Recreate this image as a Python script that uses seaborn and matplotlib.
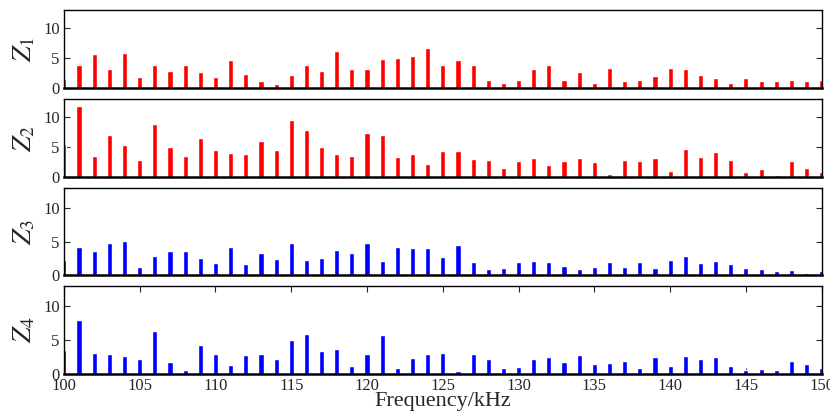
import numpy as np
import pandas as pd
import seaborn as sns
import matplotlib
matplotlib.use("Agg")
import matplotlib.pyplot as plt

freq = list(range(100, 151))

z1 = [1.5, 3.9, 5.6, 3.2, 5.8, 1.9, 3.8, 2.8, 3.9, 2.6,
      1.9, 4.6, 2.3, 1.1, 0.6, 2.1, 3.8, 2.9, 6.2, 3.2,
      3.1, 4.9, 5.0, 5.3, 6.6, 3.8, 4.7, 3.9, 1.4, 0.9,
      1.4, 3.1, 3.8, 1.4, 2.6, 0.9, 3.4, 1.2, 1.4, 2.0,
      3.4, 3.1, 2.1, 1.7, 0.8, 1.7, 1.1, 1.1, 1.3, 1.2, 1.3]

z2 = [5.6, 11.9, 3.6, 7.1, 5.4, 2.9, 8.9, 5.0, 3.5, 6.6,
      4.6, 4.1, 3.8, 6.0, 4.6, 9.5, 7.9, 5.1, 3.9, 3.6,
      7.3, 7.0, 3.3, 3.9, 2.2, 4.4, 4.4, 3.1, 2.9, 1.6,
      2.7, 3.2, 2.1, 2.7, 3.2, 2.5, 0.6, 2.9, 2.7, 3.2,
      1.1, 4.7, 3.4, 4.2, 2.8, 0.8, 1.4, 0.4, 2.7, 1.6, 0.9]

z3 = [2.3, 4.15, 3.65, 4.75, 5.05, 1.2, 2.9, 3.65, 3.65, 2.6,
      1.8, 4.15, 1.6, 3.35, 2.4, 4.85, 2.2, 2.5, 3.75, 3.25,
      4.85, 2.1, 4.15, 4.05, 4.05, 2.7, 4.55, 1.9, 0.85, 1.0,
      1.9, 2.1, 1.9, 1.3, 0.85, 1.2, 1.9, 1.2, 2.0, 1.1,
      2.2, 2.9, 1.8, 2.1, 1.7, 1.1, 0.85, 0.55, 0.75, 0.35, 0.65]

z4 = [3.45, 7.9, 3.05, 2.85, 2.55, 2.25, 6.3, 1.75, 0.5, 4.25,
      2.95, 1.3, 2.75, 2.85, 2.25, 5.0, 5.9, 3.35, 3.65, 1.1,
      2.95, 5.7, 0.9, 2.35, 2.95, 3.05, 0.4, 2.95, 2.15, 0.8,
      1.0, 2.25, 2.45, 1.75, 2.75, 1.4, 1.55, 1.95, 0.8, 2.45,
      1.1, 2.65, 2.15, 2.45, 1.1, 0.6, 0.7, 0.5, 1.95, 1.4, 0.9]

series = [("$Z_1$", z1, "#ff0000"), ("$Z_2$", z2, "#ff0000"),
          ("$Z_3$", z3, "#0000ff"), ("$Z_4$", z4, "#0000ff")]

sns.set_style("ticks")
plt.rcParams["font.family"] = ["Liberation Serif", "DejaVu Serif"]
plt.rcParams["mathtext.fontset"] = "stix"

fig = plt.figure(figsize=(8.3, 4.15), dpi=100)

# [bottom, top] of each panel in figure fraction
boxes = [(0.788, 0.976), (0.573, 0.761), (0.337, 0.546), (0.0995, 0.311)]
left, right = 0.077, 0.990

for i, ((label, vals, col), (b, t)) in enumerate(zip(series, boxes)):
    ax = fig.add_axes([left, b, right - left, t - b])
    df = pd.DataFrame({"f": freq, "z": vals})
    sns.barplot(df, x="f", y="z", native_scale=True, width=0.34,
                color=col, saturation=1, ax=ax, zorder=2)
    ax.set_xlim(100, 150)
    ax.set_ylim(0, 13)
    ax.set_yticks([0, 5, 10])
    ax.set_xticks(range(100, 151, 5))
    ax.tick_params(direction="in", length=4, width=0.8, right=True,
                   labelsize=12, pad=3)
    ax.set_ylabel(label, fontsize=20, labelpad=4)
    for s in ax.spines.values():
        s.set_visible(True)
        s.set_color("black")
        s.set_linewidth(1.0)
    ax.spines["bottom"].set_linewidth(1.8)
    if i < 3:
        ax.tick_params(axis="x", bottom=False, labelbottom=False)
        ax.set_xlabel("")
    else:
        ax.tick_params(axis="x", top=True)
        ax.set_xlabel("Frequency/kHz", fontsize=16, labelpad=-1)

fig.savefig("out.png", dpi=100)
